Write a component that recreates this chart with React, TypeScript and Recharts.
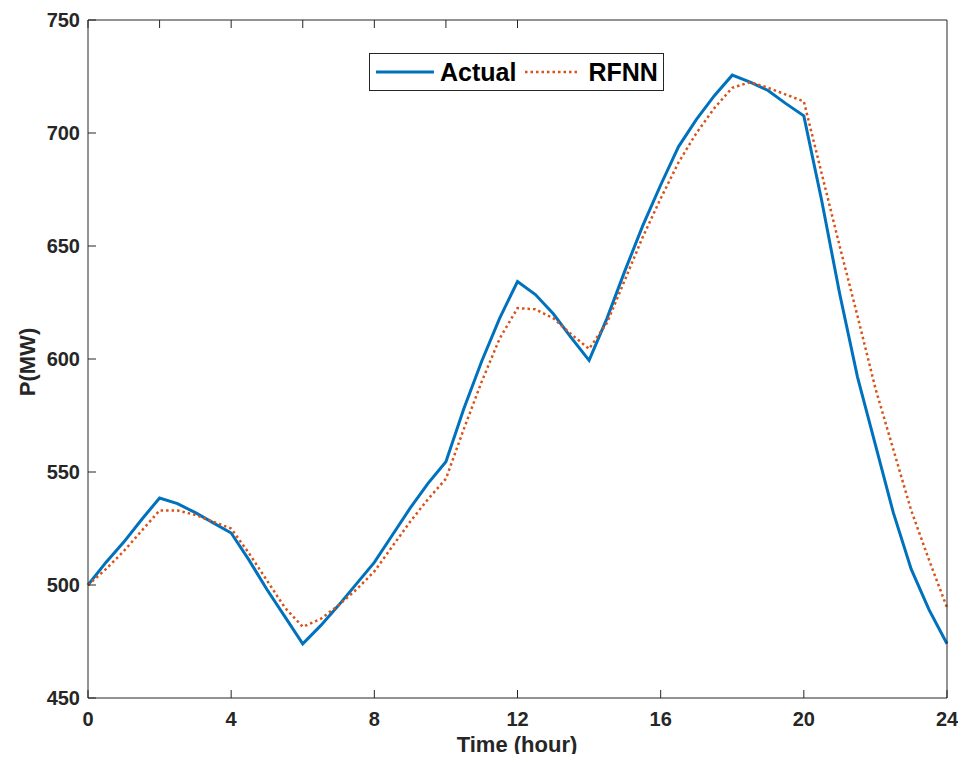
import { LineChart, Line, XAxis, YAxis, Legend } from 'recharts'

const hours = [
  0, 0.5, 1, 1.5, 2, 2.5, 3, 3.5, 4, 4.5, 5, 5.5, 6, 6.5, 7, 7.5, 8, 8.5, 9, 9.5, 10, 10.5, 11, 11.5,
  12, 12.5, 13, 13.5, 14, 14.5, 15, 15.5, 16, 16.5, 17, 17.5, 18, 18.5, 19, 19.5, 20, 20.5, 21, 21.5,
  22, 22.5, 23, 23.5, 24,
]

const actual = [
  500, 510, 519, 529, 538.5, 536, 532, 527.5, 523, 511, 498, 486, 474, 482, 491, 500.5, 510, 522, 534,
  545, 554.5, 578, 599, 618, 634.3, 628.5, 620, 609.5, 599.4, 618, 639, 659, 677, 694, 706, 716.5, 725.6,
  722.5, 718.8, 713, 707.6, 670, 629, 592, 562, 532, 507, 489, 474,
]

const rfnn = [
  500, 507, 515, 524, 533, 533, 531, 528, 525, 514, 502, 490, 481.5, 485, 491, 498, 506, 517, 528, 538,
  547, 569, 590, 609, 622.5, 622, 618, 611, 604.5, 616, 635, 654, 671, 687, 700, 711, 720, 722.5, 720,
  717, 714, 682, 650, 619, 587, 560, 533, 511, 490,
]

const xTicks = [0, 4, 8, 12, 16, 20, 24]
const yTicks = [450, 500, 550, 600, 650, 700, 750]

const data = hours.map((h, i) => ({ hour: h, actual: actual[i], rfnn: rfnn[i] }))

const font = '"Liberation Sans", Arial, Helvetica, sans-serif'
const axisColor = '#262626'
const tickStyle = { fontSize: 20, fontWeight: 'bold', fill: '#262626', fontFamily: font }
const labelStyle = { fontSize: 22, fontWeight: 'bold', fill: '#262626', fontFamily: font }

function LegendBox() {
  return (
    <div
      style={{
        display: 'flex',
        alignItems: 'center',
        border: '1px solid #262626',
        background: '#fff',
        height: 36,
        padding: '0 5px',
        fontFamily: font,
        fontWeight: 'bold',
        fontSize: 25,
        color: '#000',
        boxSizing: 'content-box',
      }}
    >
      <svg width={60} height={10}>
        <line x1={1} y1={5} x2={59} y2={5} stroke="#0072BD" strokeWidth={3} />
      </svg>
      <span style={{ marginLeft: 5, marginRight: 8 }}>Actual</span>
      <svg width={56} height={10}>
        <line x1={1} y1={5} x2={55} y2={5} stroke="#D95319" strokeWidth={2.5} strokeDasharray="2.5 3" />
      </svg>
      <span style={{ marginLeft: 8 }}>RFNN</span>
    </div>
  )
}

export default function App() {
  return (
    <div style={{ width: 950, height: 754, background: '#fff', marginBottom: -8 }}>
      <LineChart
        width={950}
        height={754}
        data={data}
        margin={{ top: 0, right: 0, left: 0, bottom: 0 }}
      >
        <XAxis
          xAxisId="bottom"
          dataKey="hour"
          type="number"
          domain={[0, 24]}
          ticks={xTicks}
          height={64}
          tickSize={-8}
          tickMargin={22}
          stroke={axisColor}
          tick={tickStyle}
          label={{
            content: () => (
              <text x={509} y={744} textAnchor="middle" style={labelStyle}>
                Time (hour)
              </text>
            ),
          }}
        />
        <XAxis
          xAxisId="top"
          orientation="top"
          type="number"
          domain={[0, 24]}
          ticks={xTicks}
          height={12}
          tickSize={-8}
          stroke={axisColor}
          tickFormatter={() => ''}
        />
        <YAxis
          yAxisId="left"
          type="number"
          domain={[450, 750]}
          ticks={yTicks}
          width={80}
          tickSize={-8}
          tickMargin={16}
          stroke={axisColor}
          tick={tickStyle}
          label={{
            content: () => (
              <text
                x={19}
                y={354}
                transform="rotate(-90 19 354)"
                textAnchor="middle"
                dominantBaseline="central"
                style={labelStyle}
              >
                P(MW)
              </text>
            ),
          }}
        />
        <YAxis
          yAxisId="right"
          orientation="right"
          type="number"
          domain={[450, 750]}
          ticks={yTicks}
          width={11}
          tickSize={-8}
          stroke={axisColor}
          tickFormatter={() => ''}
        />
        <Legend
          layout="vertical"
          align="center"
          verticalAlign="middle"
          content={() => <LegendBox />}
          wrapperStyle={{ top: 45, left: 361, width: 'auto' }}
        />
        <Line
          xAxisId="bottom"
          yAxisId="left"
          type="linear"
          dataKey="actual"
          stroke="#0072BD"
          strokeWidth={3}
          dot={false}
          isAnimationActive={false}
        />
        <Line
          xAxisId="bottom"
          yAxisId="left"
          type="linear"
          dataKey="rfnn"
          stroke="#D95319"
          strokeWidth={2.5}
          strokeDasharray="2.5 3"
          dot={false}
          isAnimationActive={false}
        />
      </LineChart>
    </div>
  )
}
